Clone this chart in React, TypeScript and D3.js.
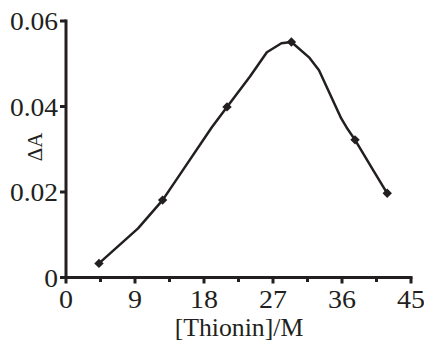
import React from "react";
import * as d3 from "d3";

const markerX = [4.3, 12.6, 21.0, 29.4, 37.7, 41.9];
const markerY = [0.0033, 0.0181, 0.0399, 0.0551, 0.0322, 0.0197];

const traceX = [4.3, 9.4, 12.6, 15.2, 19.0, 21.0, 24.0, 26.2, 28.1, 29.4, 31.7, 33.0, 35.9, 36.6, 37.7, 40.1, 41.9];
const traceY = [0.0033, 0.0115, 0.0181, 0.025, 0.0351, 0.0399, 0.047, 0.0527, 0.0548, 0.0551, 0.0515, 0.0485, 0.0372, 0.0351, 0.0322, 0.025, 0.0197];

const xTicks = [0, 9, 18, 27, 36, 45];
const xMinorTicks = [4.5, 13.5, 22.5, 31.5, 40.5];
const yTicks = [0, 0.02, 0.04, 0.06];
const yTickLabels = ["0", "0.02", "0.04", "0.06"];

const W = 424;
const H = 341;
const INK = "#231f20";
const FONT = "Liberation Serif, Times New Roman, Times, Tinos, serif";

export default function App() {
  const x = d3.scaleLinear().domain([0, 45]).range([66, 411]);
  const y = d3.scaleLinear().domain([0, 0.06]).range([277.5, 21]);

  const pts: [number, number][] = traceX.map((v, i) => [v, traceY[i]]);
  const line = d3
    .line<[number, number]>()
    .x((d) => x(d[0]))
    .y((d) => y(d[1]))
    .curve(d3.curveLinear);

  const sym = d3.symbol().type(d3.symbolSquare).size(44);

  return (
    <svg
      width={W}
      height={H}
      style={{ position: "absolute", left: 0, top: 0, background: "#fff" }}
    >
      <rect x={0} y={0} width={W} height={H} fill="#fff" />
      {/* axes */}
      <line x1={x(0)} x2={x(0)} y1={y(0.06) - 1.5} y2={y(0) + 1.5} stroke={INK} strokeWidth={3} />
      <line x1={x(0) - 1.5} x2={x(45) + 1.5} y1={y(0)} y2={y(0)} stroke={INK} strokeWidth={3} />
      {yTicks.map((t, i) => (
        <g key={"yt" + i}>
          <line x1={x(0) - 6} x2={x(0)} y1={y(t)} y2={y(t)} stroke={INK} strokeWidth={3} />
          <text
            transform={`translate(${x(0) - 8},${y(t) + 9}) scale(1.1,1)`}
            textAnchor="end"
            fontFamily={FONT}
            fontSize={25}
            fill={INK}
          >
            {yTickLabels[i]}
          </text>
        </g>
      ))}
      {xTicks.map((t, i) => (
        <g key={"xt" + i}>
          <line x1={x(t)} x2={x(t)} y1={y(0)} y2={y(0) + 6} stroke={INK} strokeWidth={3} />
          <text
            transform={`translate(${x(t)},308) scale(1.12,1)`}
            textAnchor="middle"
            fontFamily={FONT}
            fontSize={25}
            fill={INK}
          >
            {String(t)}
          </text>
        </g>
      ))}
      {xMinorTicks.map((t, i) => (
        <line key={"xm" + i} x1={x(t)} x2={x(t)} y1={y(0)} y2={y(0) + 4.5} stroke={INK} strokeWidth={3} />
      ))}
      {/* axis titles */}
      <text
        transform="translate(239,336) scale(1.03,1)"
        textAnchor="middle"
        fontFamily={FONT}
        fontSize={25}
        fill={INK}
      >
        [Thionin]/M
      </text>
      <text
        transform={`translate(42,147) rotate(-90)`}
        textAnchor="middle"
        fontFamily={FONT}
        fontSize={21}
        fill={INK}
      >
        ΔA
      </text>
      {/* data */}
      <path d={line(pts) || ""} fill="none" stroke={INK} strokeWidth={2.5} strokeLinejoin="round" />
      {markerX.map((v, i) => (
        <path
          key={"m" + i}
          d={sym() || ""}
          transform={`translate(${x(v)},${y(markerY[i])}) rotate(45)`}
          fill={INK}
        />
      ))}
    </svg>
  );
}
